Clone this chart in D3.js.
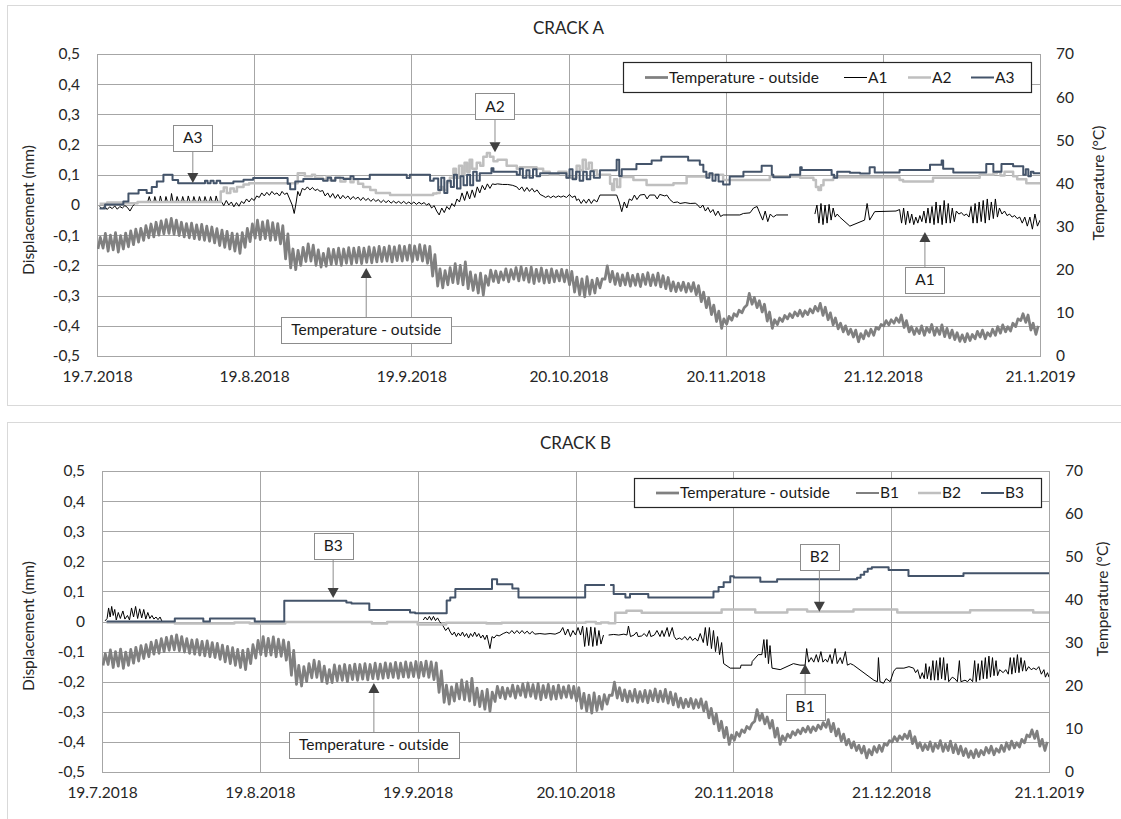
<!DOCTYPE html>
<html>
<head>
<meta charset="utf-8">
<title>Crack A / Crack B displacement and outside temperature</title>
<script src="https://d3js.org/d3.v7.min.js"></script>
<style>
  body { margin: 0; background: #fff; }
  svg { display: block; font-family: Lato, "Open Sans", sans-serif; }
  .frame { fill: #fff; stroke: #d9d9d9; stroke-width: 1; }
  .grid { stroke: #a6a6a6; stroke-width: 1; shape-rendering: crispEdges; }
  .plot-border { fill: none; stroke: #a6a6a6; stroke-width: 1; shape-rendering: crispEdges; }
  .tick-label { font-size: 15.5px; fill: #262626; }
  .axis-title { font-size: 15.5px; fill: #262626; }
  .chart-title { font-size: 17px; fill: #262626; }
  .legend-box { fill: #fff; stroke: #262626; stroke-width: 1.2; }
  .legend-text { font-size: 15.5px; fill: #1a1a1a; }
  .callout-box { fill: #fff; stroke: #8c8c8c; stroke-width: 1; }
  .callout-text { font-size: 15.5px; fill: #1a1a1a; }
  .callout-line { stroke: #8c8c8c; stroke-width: 1; }
  .callout-head { fill: #404040; }
</style>
</head>
<body>
<div id="chart"></div>
<script>
// x values are days since 19.7.2018
const xTickLabels = ["19.7.2018", "19.8.2018", "19.9.2018", "20.10.2018", "20.11.2018", "21.12.2018", "21.1.2019"];
const dispTicks = [-0.5, -0.4, -0.3, -0.2, -0.1, 0, 0.1, 0.2, 0.3, 0.4, 0.5];
const tempTicks = [0, 10, 20, 30, 40, 50, 60, 70];

// outside temperature, daily max / min (°C), day 0..185
const tempMax = [
  27.5,28.4,28.0,28.6,27.9,28.5,29.0,29.4,29.6,30.2,
  30.6,31.0,31.3,31.6,31.9,31.5,31.0,30.7,30.8,30.4,
  30.5,30.1,29.9,29.5,29.2,28.9,28.5,28.3,28.6,29.6,
  30.6,31.5,31.1,31.4,30.9,30.7,30.2,28.3,24.8,24.5,
  25.2,26.0,25.7,24.6,23.8,24.9,24.7,25.0,24.8,25.1,
  25.0,25.2,25.0,25.3,25.1,25.4,25.2,25.5,25.3,25.6,
  25.4,25.7,25.5,25.8,25.6,25.4,23.5,20.2,19.8,20.5,
  21.4,21.0,21.8,19.5,18.8,19.2,18.6,19.9,19.7,19.5,
  20.2,20.0,20.5,20.7,20.3,20.6,20.1,20.4,19.9,20.2,
  19.8,20.1,19.9,19.6,18.3,17.9,18.4,17.6,18.0,17.9,
  20.9,19.6,19.1,18.8,19.2,18.7,19.0,18.9,19.3,18.8,
  19.2,18.6,18.2,17.2,16.9,17.1,16.8,17.0,16.3,14.8,
  13.5,11.8,10.4,8.6,9.2,9.8,10.6,11.2,14.5,13.6,
  12.8,12.0,10.2,8.4,8.8,9.4,9.8,10.2,10.6,10.5,
  10.9,11.5,12.2,11.3,10.0,8.8,7.6,7.0,6.2,6.0,
  5.2,5.9,6.2,6.6,7.3,8.2,8.4,8.8,9.5,8.2,
  6.8,6.4,7.0,6.6,7.3,6.5,7.2,6.4,6.0,5.4,
  4.9,5.2,5.0,5.7,6.0,5.4,6.2,6.8,7.2,6.8,
  7.6,8.6,9.8,9.5,7.6,7.0
];
const tempMin = [
  24.8,25.0,24.3,24.6,24.1,24.8,25.3,25.8,26.4,26.8,
  27.4,27.6,28.0,28.3,28.4,28.2,27.9,27.6,27.4,27.2,
  27.0,26.8,26.6,26.2,25.6,25.2,24.8,24.3,23.8,25.2,
  26.5,27.3,27.0,27.2,26.8,26.9,26.0,22.5,20.4,20.0,
  21.0,21.9,22.0,21.0,20.6,20.8,21.2,21.3,21.0,21.5,
  21.3,21.6,21.4,21.7,21.6,21.8,21.9,22.0,21.8,22.1,
  22.0,22.2,21.9,22.3,22.0,21.5,18.5,16.2,15.8,16.5,
  17.0,16.8,16.5,15.6,15.2,14.6,14.1,16.4,17.3,17.0,
  17.6,17.2,17.8,17.4,17.6,17.1,16.8,17.3,16.9,17.0,
  17.2,17.4,17.2,16.5,14.8,14.2,13.7,14.3,14.6,15.8,
  17.8,17.2,16.6,16.3,16.5,16.2,16.4,16.1,16.6,16.3,
  16.4,16.0,15.6,15.1,14.9,15.2,14.8,15.0,14.2,12.6,
  11.2,9.6,8.0,6.4,7.4,8.3,9.2,10.0,11.8,12.0,
  11.2,10.2,8.1,6.4,7.3,8.0,8.6,8.9,9.3,9.2,
  9.6,10.0,10.4,9.4,8.4,7.2,6.3,5.6,5.0,4.4,
  3.3,4.0,4.6,4.8,6.2,7.0,7.2,7.6,7.8,6.6,
  5.6,5.0,5.2,4.8,5.5,4.8,5.0,4.5,4.2,3.8,
  3.4,3.3,3.6,4.0,4.4,4.0,4.6,4.8,5.3,5.6,
  5.8,6.8,8.2,7.8,6.0,5.0
];

// crack A (mm) - [day, value]
const a1Data = [
  [0.5,-0.005],[1,-0.012],[1.5,-0.004],[2,-0.015],[2.5,-0.006],[3,-0.012],[3.5,-0.003],[4,-0.014],[4.5,-0.005],[5,-0.01],
  [5.5,-0.002],[6,-0.008],[6.5,-0.02],[7,-0.005],[7.5,0.005],[8,0.008],[9,0.01],[10,0.01],[10.3,0.028],[10.6,0.01],
  [11.2,0.01],[11.4,0.028],[11.7,0.01],[12.3,0.01],[12.5,0.03],[12.8,0.01],[13.4,0.01],[13.6,0.028],[13.9,0.01],[14.5,0.01],
  [14.7,0.038],[15,0.01],[15.6,0.012],[15.8,0.028],[16.1,0.012],[16.7,0.012],[16.9,0.028],[17.2,0.012],[17.8,0.012],[18,0.03],
  [18.3,0.012],[18.9,0.012],[19.1,0.028],[19.4,0.012],[20,0.012],[20.2,0.028],[20.5,0.012],[21.1,0.012],[21.3,0.028],[21.6,0.012],
  [22.2,0.012],[22.4,0.028],[22.7,0.012],[23.3,0.012],[23.5,0.03],[23.8,0.012],[24.5,0.012],[25,-0.002],[25.5,0.015],[26,0],
  [26.5,0.01],[27,-0.006],[27.5,0.008],[28,-0.004],[28.5,0.012],[29,0.005],[29.5,0.02],[30,0.01],[30.5,0.022],[31,0.015],
  [31.5,0.03],[32,0.025],[32.5,0.04],[33,0.03],[33.5,0.042],[34,0.032],[34.5,0.045],[35,0.035],[35.5,0.04],[36,0.03],
  [36.5,0.045],[37,0.035],[37.5,0.04],[38,0.02],[38.5,0],[38.9,-0.028],[39.3,0.01],[39.6,0.045],[40,0.03],[40.5,0.055],
  [41,0.05],[41.5,0.06],[42,0.05],[42.5,0.058],[43,0.048],[43.5,0.052],[44,0.045],[44.5,0.048],[45,0.03],[45.5,0.04],
  [46,0.025],[46.5,0.038],[47,0.022],[47.5,0.035],[48,0.02],[48.5,0.032],[49,0.022],[49.5,0.03],[50,0.018],[50.5,0.028],
  [51,0.02],[51.5,0.026],[52,0.015],[52.5,0.025],[53,0.015],[53.5,0.022],[54,0.012],[54.5,0.02],[55,0.012],[55.5,0.018],
  [56,0.008],[56.5,0.016],[57,0.008],[57.5,0.015],[58,0.006],[58.5,0.013],[59,0.006],[59.5,0.012],[60,0.005],[60.5,0.012],
  [61,0.004],[61.5,0.01],[62,0.003],[62.5,0.01],[63,0.002],[63.5,0.009],[64,0.003],[64.5,0.008],[65,0],[65.5,0.005],
  [66,-0.01],[66.5,-0.002],[67,-0.02],[67.5,-0.033],[68,-0.01],[68.5,-0.025],[69,-0.005],[69.5,-0.015],[70,0.005],[70.5,-0.005],
  [71,0.02],[71.5,0.01],[72,0.04],[72.5,0.015],[73,0.045],[73.5,0.02],[74,0.05],[74.5,0.025],[75,0.06],[75.5,0.04],
  [76,0.065],[76.5,0.05],[77,0.07],[77.5,0.055],[78,0.07],[78.5,0.068],[79,0.07],[80,0.068],[81,0.068],[82,0.065],
  [82.8,0.06],[83.3,0.05],[83.8,0.06],[84.3,0.045],[84.8,0.058],[85.3,0.045],[85.8,0.055],[86.3,0.043],[86.8,0.05],[87.4,0.035],
  [88,0.03],[88.5,0.025],[89,0.03],[89.5,0.024],[90,0.03],[90.5,0.025],[91,0.03],[91.5,0.026],[92,0.03],[92.6,0.025],
  [93.2,0.035],[93.7,0.025],[94.3,0.03],[94.6,0.015],[95,0.02],[95.5,0.005],[96,0.018],[96.5,0.006],[97,0.02],[97.5,0.005],
  [98,0.018],[98.6,0.01],[99.2,0.033],[102.5,0.033],[103,0.01],[103.5,-0.022],[104,0.01],[104.5,-0.01],[105,0.02],[105.5,0.015],
  [106,0.033],[106.5,0.018],[107.1,0.033],[108,0.035],[108.5,0.02],[109,0.033],[110,0.033],[110.5,0.02],[111,0.035],[112,0.03],
  [112.4,0.033],[113,0.018],[113.7,0.008],[114.5,0.01],[115,0.005],[116,0.008],[117,0.005],[118,0.006],[118.3,0.003],[119,-0.01],
  [119.5,0],[120,-0.02],[120.5,-0.008],[121,-0.025],[121.5,-0.015],[122,-0.035],[122.5,-0.02],[123,-0.038],[123.5,-0.033],[126.8,-0.033],
  [127.5,-0.028],[128.8,-0.026],[129.5,-0.01],[130.2,-0.005],[130.8,-0.03],[131.3,-0.05],[131.8,-0.02],[132.3,-0.055],[132.8,-0.03],[133.4,-0.04],
  [134,-0.033],[136.3,-0.033],
  null,
  [141.6,-0.03],[142,0.0],[142.4,-0.06],[142.8,0.005],[143.2,-0.065],[143.6,0.0],[144,-0.06],[144.4,0.002],[144.8,-0.05],[145.2,-0.01],
  [145.6,-0.04],[146,-0.03],[146.5,-0.04],[148.5,-0.07],[151.4,-0.05],[151.9,0.005],[152.4,-0.05],[153.4,-0.022],[157.6,-0.02],[158.3,-0.015],
  [158.7,-0.06],[159.1,-0.01],[159.5,-0.065],[159.9,-0.02],[160.3,-0.06],[160.7,-0.03],[161.1,-0.065],[161.5,-0.04],[161.9,-0.06],[162.3,-0.035],
  [162.7,-0.055],[163.1,-0.02],[163.5,-0.06],[163.9,-0.01],[164.3,-0.06],[164.7,-0.005],[165.1,-0.065],[165.5,0.01],[165.9,-0.06],[166.3,0.0],
  [166.7,-0.065],[167.1,0.015],[167.5,-0.06],[167.9,0.005],[168.3,-0.06],[168.7,-0.01],[169.1,-0.055],[169.5,-0.02],[170,-0.03],[170.5,-0.025],
  [171,-0.035],[171.5,-0.03],[172,-0.04],[172.4,-0.005],[172.8,-0.06],[173.2,0.005],[173.6,-0.06],[174,0.01],[174.4,-0.055],[174.8,0.015],
  [175.2,-0.06],[175.6,0.02],[176,-0.05],[176.4,0.01],[176.8,-0.045],[177.2,0.02],[177.6,-0.04],[178,-0.01],[178.5,-0.03],[179,-0.02],
  [179.5,-0.035],[180,-0.03],[180.5,-0.04],[181,-0.035],[181.5,-0.045],[182,-0.04],[182.5,-0.06],[183,-0.04],[183.5,-0.07],[184,-0.04],
  [184.5,-0.08],[185,-0.03],[185.5,-0.07],[186,-0.05]
];
const a2Data = [
  [0.5,0.004],[2,0.008],[5,0.006],[8,0.01],[24.4,0.045],[25,0.058],[25.6,0.04],[26.3,0.055],[27,0.045],[27.6,0.06],
  [28.9,0.068],[30,0.072],[39.6,0.105],[41,0.095],[42.4,0.1],[43,0.09],[44.5,0.085],[45.3,0.095],[46,0.082],[47,0.09],
  [48,0.078],[49,0.088],[50,0.075],[50.6,0.085],[51.5,0.07],[52.5,0.06],[53.9,0.05],[55,0.04],[57.8,0.033],[66.3,0.038],
  [67,0.04],[67.6,0.06],[68.2,0.05],[69,0.075],[69.6,0.09],[70.3,0.12],[70.8,0.09],[71.4,0.13],[72,0.1],[72.5,0.14],
  [73,0.11],[73.5,0.15],[74,0.12],[74.9,0.14],[75.6,0.13],[76.2,0.16],[76.9,0.172],[77.5,0.16],[78.2,0.145],[79,0.15],
  [80.8,0.13],[82.8,0.12],[83.4,0.125],[86.7,0.12],[88,0.11],[89.3,0.1],[91,0.11],[92.6,0.09],[94.6,0.13],[95.2,0.115],
  [95.8,0.15],[96.4,0.12],[97,0.14],[97.6,0.115],[98.6,0.1],[101.2,0.07],[101.6,0.05],[102,0.085],[102.6,0.06],[103.2,0.093],
  [105.8,0.083],[108.4,0.066],[113.7,0.072],[116.3,0.094],[120.2,0.1],[123.5,0.083],[132.7,0.094],[138.7,0.09],[141.3,0.083],[141.8,0.06],
  [142.3,0.05],[142.8,0.065],[143.3,0.083],[145.2,0.092],[157,0.092],[158.3,0.083],[159,0.078],[164.9,0.09],[174.1,0.1],[176.8,0.105],
  [177.5,0.11],[178.2,0.098],[179,0.11],[180.7,0.095],[181.5,0.085],[183.3,0.072],[186,0.072]
];
const a3Data = [
  [0.5,-0.012],[1.6,0.002],[5.2,0.012],[6.2,0.038],[8.2,0.05],[9.8,0.04],[10.8,0.06],[11.8,0.078],[13.1,0.1],[14.9,0.083],
  [16,0.072],[21.3,0.08],[21.8,0.072],[22.4,0.08],[23,0.072],[23.6,0.08],[24.3,0.072],[26.9,0.078],[28.9,0.084],[30.8,0.089],
  [37.6,0.07],[38.1,0.052],[39.1,0.078],[40.7,0.086],[44.6,0.08],[45.5,0.09],[46.2,0.08],[47,0.09],[48.6,0.086],[50,0.095],
  [50.6,0.086],[53.8,0.1],[61.1,0.089],[61.7,0.1],[65.7,0.08],[66.4,0.088],[67.3,0.05],[67.9,0.09],[68.5,0.04],[69.1,0.08],
  [69.8,0.06],[70.4,0.1],[71,0.055],[71.7,0.095],[72.3,0.065],[73,0.1],[73.6,0.065],[74.2,0.11],[74.9,0.08],[75.5,0.105],
  [77.8,0.122],[78.2,0.11],[82.8,0.1],[83.4,0.12],[84,0.09],[84.7,0.115],[85.3,0.09],[86,0.118],[86.7,0.095],[87.4,0.105],
  [92.6,0.09],[93.2,0.118],[93.8,0.085],[94.5,0.11],[95.2,0.08],[95.9,0.11],[96.6,0.085],[97.3,0.112],[98,0.09],[99.2,0.115],
  [102.5,0.15],[103,0.096],[103.5,0.118],[106.4,0.136],[109.4,0.147],[111.3,0.16],[116.6,0.147],[118.9,0.133],[119.6,0.11],[120.2,0.09],
  [120.8,0.105],[121.4,0.08],[122,0.1],[122.6,0.078],[123.5,0.068],[124.8,0.094],[127.5,0.11],[131.1,0.13],[133.1,0.1],[133.4,0.092],
  [136.7,0.1],[138.7,0.125],[139,0.116],[144.9,0.1],[145.4,0.09],[146,0.11],[148.5,0.107],[150.5,0.104],[152.4,0.125],[153.4,0.108],
  [158.3,0.116],[164.3,0.133],[166.6,0.147],[166.9,0.12],[168.9,0.108],[175.4,0.136],[176.8,0.11],[178.4,0.136],[180.7,0.128],[182.7,0.1],
  [183.2,0.118],[183.7,0.095],[184.2,0.11],[184.7,0.105],[186,0.105]
];

// crack B (mm) - [day, value]
const b1Data = [
  [0.6,0.002],[1,0.01],[1.3,0.045],[1.6,0.015],[1.9,0.05],[2.2,0.02],[2.5,0.04],[2.8,0.005],[3.2,0.03],[3.6,0.01],
  [4.1,0.035],[4.5,0.008],[5,0.02],[5.4,0.005],[5.8,0.045],[6.2,0.015],[6.6,0.05],[7,0.01],[7.4,0.042],[7.8,0.012],
  [8.2,0.04],[8.6,0.008],[9,0.03],[9.4,0.01],[9.8,0.02],[10.2,0.008],[10.6,0.015],[11,0.006],[11.4,0.015],[11.8,0.0],
  null,
  [63.1,0.005],[63.5,0.015],[63.9,0.005],[64.3,0.017],[64.7,0.004],[65.1,0.017],[65.5,0.003],[65.9,0.012],[66.3,0.0],[67,-0.015],
  [67.5,-0.03],[68,-0.02],[68.4,-0.035],[68.8,-0.045],[69.2,-0.035],[69.6,-0.05],[70,-0.038],[70.4,-0.048],[70.8,-0.035],[71.2,-0.05],
  [71.6,-0.04],[72,-0.055],[72.4,-0.04],[72.8,-0.05],[73.2,-0.035],[73.6,-0.05],[74,-0.04],[74.4,-0.055],[74.8,-0.045],[75.2,-0.06],
  [75.6,-0.045],[76.2,-0.09],[76.6,-0.05],[77,-0.055],[77.5,-0.045],[78,-0.048],[78.8,-0.04],[79.5,-0.035],[80,-0.04],[80.5,-0.03],
  [81,-0.04],[81.5,-0.03],[82,-0.04],[82.5,-0.03],[83,-0.04],[83.5,-0.032],[84,-0.042],[84.5,-0.033],[85,-0.042],[86,-0.04],
  [87,-0.042],[88,-0.04],[89,-0.042],[90,-0.035],[90.5,-0.02],[91,-0.045],[91.5,-0.025],[92,-0.05],[92.5,-0.03],[93,-0.045],
  [93.5,-0.02],[94,-0.045],[94.4,-0.015],[94.8,-0.083],[95.2,-0.02],[95.6,-0.08],[96,-0.018],[96.4,-0.083],[96.8,-0.02],[97.2,-0.08],
  [97.6,-0.03],[98,-0.075],[98.5,-0.045],
  null,
  [99.5,-0.045],[100.5,-0.043],[101.5,-0.045],[102.5,-0.042],[103.1,-0.045],[103.4,-0.015],[103.8,-0.05],[104.5,-0.045],[105,-0.035],[105.3,-0.05],
  [106,-0.048],[106.5,-0.04],[107,-0.05],[107.5,-0.03],[107.8,-0.05],[108.5,-0.045],[109,-0.03],[109.6,-0.05],[110,-0.03],[110.4,-0.05],
  [111,-0.02],[111.4,-0.05],[112,-0.02],[112.4,-0.05],[112.8,-0.06],[113.4,-0.055],[113.9,-0.06],[114.5,-0.05],[115,-0.062],[115.5,-0.05],
  [116,-0.063],[116.5,-0.055],[117,-0.065],[117.5,-0.04],[118.1,-0.07],[118.5,-0.02],[118.9,-0.08],[119.3,-0.02],[119.7,-0.09],[120.1,-0.03],
  [120.5,-0.1],[120.9,-0.05],[121.3,-0.11],[121.7,-0.07],[122.1,-0.14],[123.4,-0.155],[125.4,-0.155],[125.5,-0.145],[127.6,-0.145],[127.7,-0.133],
  [128.9,-0.11],[129.6,-0.11],[130,-0.06],[130.3,-0.12],[130.6,-0.06],[130.9,-0.14],[131.2,-0.08],[131.6,-0.155],[133.2,-0.16],[135.8,-0.14],
  [137.1,-0.145],[138.1,-0.145],[138.4,-0.09],[138.8,-0.135],[139.3,-0.12],[139.8,-0.135],[140.3,-0.11],[140.7,-0.135],[141.2,-0.1],[141.6,-0.135],
  [142.1,-0.125],[142.5,-0.135],[143,-0.11],[143.4,-0.14],[144,-0.09],[144.4,-0.14],[145,-0.12],[145.4,-0.14],[146,-0.1],[146.4,-0.145],
  [147,-0.14],[147.6,-0.145],[151.6,-0.195],[152.3,-0.2],[152.5,-0.12],[152.8,-0.2],[153.5,-0.205],[154,-0.19],[154.8,-0.2],[155.5,-0.165],
  [156,-0.155],[157.5,-0.155],[158.5,-0.15],[159.4,-0.155],[159.8,-0.17],[160.2,-0.16],[160.7,-0.19],[161.1,-0.17],[161.5,-0.19],[161.8,-0.14],
  [162.1,-0.19],[162.5,-0.15],[162.8,-0.195],[163.2,-0.13],[163.5,-0.195],[163.9,-0.13],[164.2,-0.195],[164.6,-0.12],[164.9,-0.19],[165.3,-0.12],
  [165.6,-0.195],[166,-0.14],[166.3,-0.2],[167,-0.185],[167.5,-0.19],[168,-0.2],[168.4,-0.13],[168.7,-0.2],[169.5,-0.195],[170,-0.2],
  [170.5,-0.19],[171,-0.2],[171.4,-0.13],[171.7,-0.2],[172.1,-0.14],[172.4,-0.195],[172.8,-0.13],[173.1,-0.19],[173.5,-0.12],[173.8,-0.19],
  [174.2,-0.115],[174.5,-0.185],[174.9,-0.12],[175.2,-0.18],[175.6,-0.13],[175.9,-0.18],[176.3,-0.16],[177,-0.17],[177.5,-0.16],[178,-0.175],
  [178.4,-0.12],[178.7,-0.175],[179.1,-0.12],[179.4,-0.17],[179.8,-0.11],[180.1,-0.17],[180.5,-0.12],[180.8,-0.165],[181.2,-0.13],[181.5,-0.165],
  [182,-0.15],[182.5,-0.16],[183,-0.155],[183.5,-0.16],[184,-0.15],[184.5,-0.175],[185,-0.16],[185.3,-0.185],[185.7,-0.17],[186,-0.185]
];
const b2Data = [
  [0.9,-0.003],[14.3,-0.007],[26,-0.003],[29,-0.007],[36,-0.002],[53,-0.007],[56,-0.002],[62,-0.01],[67.6,-0.004],[75.5,-0.007],
  [78.5,-0.004],[95,-0.002],[97,-0.007],[98,-0.003],[99.5,-0.006],[100.8,0.029],[103,0.036],[106,0.029],[121.7,0.04],[128.3,0.03],
  [134.6,0.04],[138.5,0.033],[147.6,0.04],[156.2,0.03],[170.5,0.037],[182.9,0.03],[186,0.03]
];
const b3Data = [
  [0.9,0.0],[14.3,0.01],[19.9,0.0],[21.2,0.01],[30,0.0],[35.8,0.069],[48,0.063],[49,0.06],[52.5,0.038],[60.5,0.03],
  [61.5,0.027],[67.7,0.07],[68.4,0.08],[69.4,0.108],[76.6,0.14],[77.6,0.124],[80.6,0.11],[81.8,0.08],[94.9,0.121],[98.8,0.121],
  null,
  [99.8,0.121],[100.5,0.091],[102.8,0.08],[103.7,0.091],[107.3,0.08],[120.1,0.1],[121.1,0.115],[122.1,0.13],[123.4,0.15],[124.1,0.146],
  [129.3,0.132],[132.6,0.14],[148.3,0.145],[149,0.155],[149.7,0.165],[150.4,0.175],[151.2,0.18],[154.5,0.171],[158.4,0.151],[169.2,0.16],
  [186,0.16]
];

// callout labels and the point they point at: [label, day, value, axis]
const calloutsA = [["A3", 18.9, 0.073, "d"], ["A2", 78.5, 0.175, "d"], ["Temperature - outside", 53.1, 20.4, "t"], ["A1", 163.3, -0.089, "d"]];
const calloutsB = [["B3", 45.4, 0.078, "d"], ["B2", 140.9, 0.032, "d"], ["Temperature - outside", 53.4, 20.7, "t"], ["B1", 138.1, -0.141, "d"]];
// pixel gap between arrow tip and box (negative = box above)
const calloutGapA = [-32, -33, 49, 35];
const calloutGapB = [-39, -42, 49, 30];

const startMs = Date.UTC(2018, 6, 19);
const toDate = day => new Date(startMs + day * 864e5);
const parseTick = d3.utcParse("%d.%m.%Y");
const xTicks = xTickLabels.map(parseTick);

const tempPts = [];
tempMax.forEach((mx, i) => {
  tempPts.push([i + 0.2, tempMin[i]]);
  tempPts.push([i + 0.65, mx]);
});

const seriesStyle = [
  { color: "#000000", width: 1, curve: d3.curveLinear },
  { color: "#bfbfbf", width: 2.5, curve: d3.curveStepAfter },
  { color: "#44546a", width: 2, curve: d3.curveStepAfter }
];
const tempStyle = { color: "#808080", width: 2.75 };

const fmtDisp = v => Math.abs(v) < 1e-9 ? "0" : v.toFixed(1).replace(".", ",");

const svg = d3.select("#chart").append("svg")
  .attr("width", 1121)
  .attr("height", 819);

const panels = [
  { key: "A", title: "CRACK A", names: ["A1", "A2", "A3"], series: [a1Data, a2Data, a3Data],
    callouts: calloutsA, gaps: calloutGapA,
    frame: { x: 7, y: 5, w: 1120, h: 400 }, plot: { l: 97, r: 1040, t: 54, b: 356 },
    titleY: 28, leftTitle: { x: 29, cy: 210 }, rightTitle: { x: 1099, cy: 183 },
    legend: { x: 623, y: 62, w: 408, h: 30, items: [22, 221, 285, 348] } },
  { key: "B", title: "CRACK B", names: ["B1", "B2", "B3"], series: [b1Data, b2Data, b3Data],
    callouts: calloutsB, gaps: calloutGapB,
    frame: { x: 7, y: 422, w: 1120, h: 400 }, plot: { l: 102, r: 1049, t: 471, b: 772 },
    titleY: 443, leftTitle: { x: 29, cy: 626 }, rightTitle: { x: 1103, cy: 599 },
    legend: { x: 634, y: 478, w: 407, h: 29, items: [22, 222, 284, 347] } }
];

panels.forEach(drawPanel);

function drawPanel(p) {
  const g = svg.append("g");
  const { l, r, t, b } = p.plot;

  g.append("rect").attr("class", "frame")
    .attr("x", p.frame.x + 0.5).attr("y", p.frame.y + 0.5)
    .attr("width", p.frame.w).attr("height", p.frame.h);

  const x = d3.scaleUtc().domain([toDate(0), toDate(186)]).range([l, r]);
  const y = d3.scaleLinear().domain([-0.5, 0.5]).range([b, t]);
  const yT = d3.scaleLinear().domain([0, 70]).range([b, t]);

  // gridlines
  g.append("g").selectAll("line").data(dispTicks).join("line")
    .attr("class", "grid")
    .attr("x1", l).attr("x2", r)
    .attr("y1", d => Math.round(y(d)) + 0.5).attr("y2", d => Math.round(y(d)) + 0.5);
  g.append("g").selectAll("line").data(xTicks).join("line")
    .attr("class", "grid")
    .attr("x1", d => Math.round(x(d)) + 0.5).attr("x2", d => Math.round(x(d)) + 0.5)
    .attr("y1", t).attr("y2", b);
  g.append("rect").attr("class", "plot-border")
    .attr("x", l + 0.5).attr("y", t + 0.5).attr("width", r - l).attr("height", b - t);

  // axes (labels only)
  const axL = g.append("g").attr("transform", `translate(${l},0)`)
    .call(d3.axisLeft(y).tickValues(dispTicks).tickFormat(fmtDisp).tickSize(0).tickPadding(17));
  const axR = g.append("g").attr("transform", `translate(${r},0)`)
    .call(d3.axisRight(yT).tickValues(tempTicks).tickSize(0).tickPadding(16));
  const axB = g.append("g").attr("transform", `translate(0,${b})`)
    .call(d3.axisBottom(x).tickValues(xTicks).tickFormat(d3.utcFormat("%-d.%-m.%Y")).tickSize(0).tickPadding(15));
  [axL, axR, axB].forEach(ax => {
    ax.attr("font-size", null).attr("font-family", null);
    ax.select(".domain").remove();
    ax.selectAll("text").attr("class", "tick-label");
  });

  // titles
  g.append("text").attr("class", "chart-title")
    .attr("x", (l + r) / 2).attr("y", p.titleY).attr("dy", "0.35em")
    .attr("text-anchor", "middle").text(p.title);
  g.append("text").attr("class", "axis-title")
    .attr("transform", `translate(${p.leftTitle.x},${p.leftTitle.cy}) rotate(-90)`)
    .attr("text-anchor", "middle").attr("dy", "0.35em").text("Displacement (mm)");
  g.append("text").attr("class", "axis-title")
    .attr("transform", `translate(${p.rightTitle.x},${p.rightTitle.cy}) rotate(-90)`)
    .attr("text-anchor", "middle").attr("dy", "0.35em").text("Temperature (°C)");

  // series
  const clipId = "clip" + p.key;
  g.append("clipPath").attr("id", clipId).append("rect")
    .attr("x", l).attr("y", t).attr("width", r - l).attr("height", b - t);
  const lines = g.append("g").attr("clip-path", `url(#${clipId})`);

  lines.append("path").datum(tempPts)
    .attr("fill", "none").attr("stroke", tempStyle.color).attr("stroke-width", tempStyle.width)
    .attr("stroke-linejoin", "round")
    .attr("d", d3.line().x(d => x(toDate(d[0]))).y(d => yT(d[1])));

  p.series.forEach((data, i) => {
    const st = seriesStyle[i];
    lines.append("path").datum(data)
      .attr("fill", "none").attr("stroke", st.color).attr("stroke-width", st.width)
      .attr("stroke-linejoin", "round")
      .attr("d", d3.line().defined(d => d !== null).curve(st.curve)
        .x(d => x(toDate(d[0]))).y(d => y(d[1])));
  });

  // legend
  const lg = g.append("g");
  lg.append("rect").attr("class", "legend-box")
    .attr("x", p.legend.x + 0.5).attr("y", p.legend.y + 0.5)
    .attr("width", p.legend.w).attr("height", p.legend.h);
  const items = [{ name: "Temperature - outside", st: tempStyle }]
    .concat(p.names.map((n, i) => ({ name: n, st: seriesStyle[i] })));
  const cy = p.legend.y + p.legend.h / 2 + 0.5;
  items.forEach((it, i) => {
    const cx = p.legend.x + p.legend.items[i];
    lg.append("line").attr("x1", cx).attr("x2", cx + 23).attr("y1", cy).attr("y2", cy)
      .attr("stroke", it.st.color).attr("stroke-width", it.st.width);
    lg.append("text").attr("class", "legend-text")
      .attr("x", cx + 24).attr("y", cy).attr("dy", "0.35em").text(it.name);
  });

  // callouts
  const cg = g.append("g");
  p.callouts.forEach((c, i) => {
    const [label, day, val, axis] = c;
    const gap = p.gaps[i];
    const tipX = x(toDate(day));
    const tipY = axis === "t" ? yT(val) : y(val);
    const dir = gap < 0 ? 1 : -1; // 1: arrow points down
    const headBase = tipY - dir * 10;
    const boxH = 26;
    const boxEdge = tipY + gap;
    const txt = cg.append("text").attr("class", "callout-text")
      .attr("x", tipX).attr("text-anchor", "middle").attr("dy", "0.35em").text(label);
    const w = txt.node().getComputedTextLength() + 20;
    const boxY = gap < 0 ? boxEdge - boxH : boxEdge;
    txt.attr("y", boxY + boxH / 2);
    cg.insert("line", "text").attr("class", "callout-line")
      .attr("x1", tipX).attr("x2", tipX).attr("y1", boxEdge).attr("y2", headBase);
    cg.insert("path", "text").attr("class", "callout-head")
      .attr("d", `M${tipX},${tipY}L${tipX - 5.5},${headBase}L${tipX + 5.5},${headBase}Z`);
    cg.insert("rect", "text").attr("class", "callout-box")
      .attr("x", Math.round(tipX - w / 2) + 0.5).attr("y", Math.round(boxY) + 0.5)
      .attr("width", Math.round(w)).attr("height", boxH);
  });
}
</script>
</body>
</html>
